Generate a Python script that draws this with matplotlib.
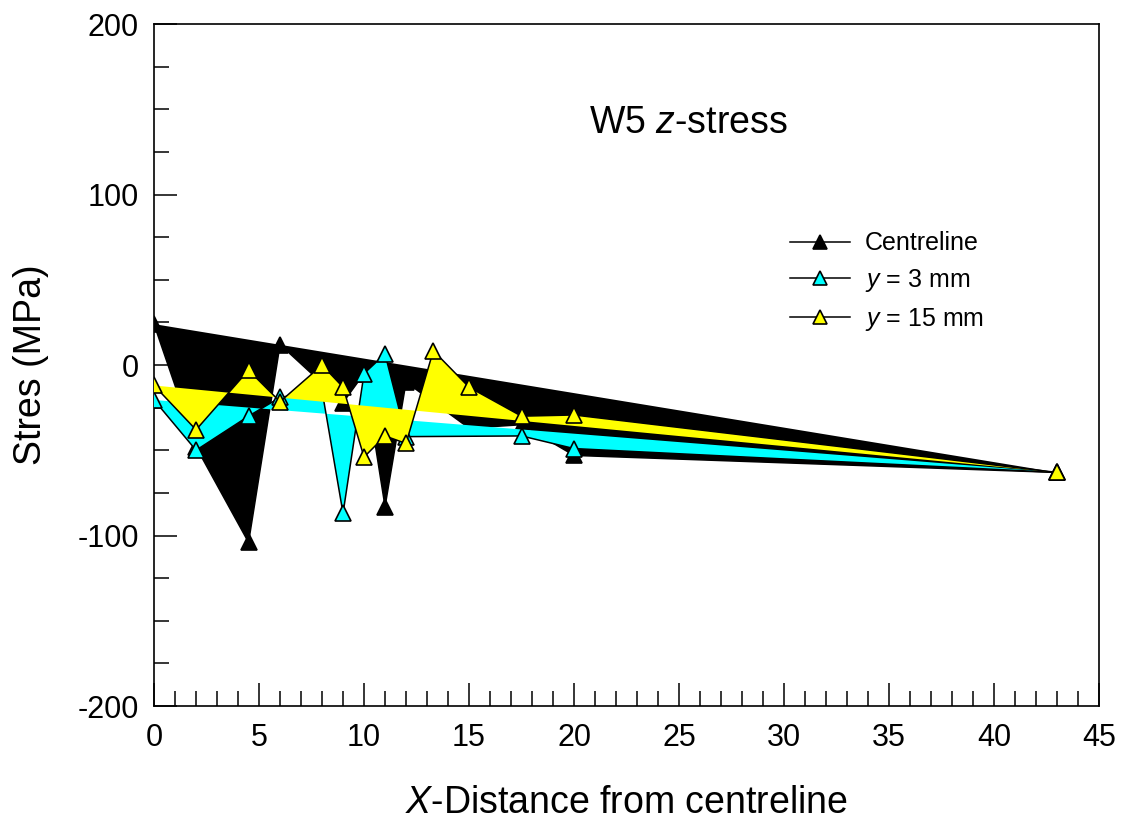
import numpy as np
import matplotlib.pyplot as plt
from matplotlib.ticker import MultipleLocator

plt.rcParams["font.family"] = ["Liberation Sans", "DejaVu Sans"]
plt.rcParams["mathtext.fontset"] = "custom"
plt.rcParams["mathtext.rm"] = "Liberation Sans"
plt.rcParams["mathtext.it"] = "Liberation Sans:italic"
plt.rcParams["axes.unicode_minus"] = False

# centreline
x_c = [0, 2, 4.5, 6, 9, 10, 11, 12, 15, 17.5, 20, 43]
s_c = [24, -48, -104, 12, -22, -5, -83, -10, -37, -35, -53, -63]
# y = 3 mm
x_3 = [0, 2, 4.5, 6, 8, 9, 10, 11, 12, 17.5, 20, 43]
s_3 = [-20.5, -50, -30, -19, -15, -87, -5, 6.5, -42, -41.6, -49, -63]
# y = 15 mm
x_15 = [0, 2, 4.5, 6, 8, 9, 10, 11, 12, 13.3, 15, 17.5, 20, 43]
s_15 = [-12, -38, -3, -21.5, 0, -13, -54, -41.6, -46, 8.4, -13, -30, -29.3, -63]

series = [
    (x_c, s_c, "black", "Centreline"),
    (x_3, s_3, "#00ffff", "$y$ = 3 mm"),
    (x_15, s_15, "#ffff00", "$y$ = 15 mm"),
]

fig = plt.figure(figsize=(11.22, 8.25), dpi=100)
ax = fig.add_axes([0.1373, 0.1442, 0.8422, 0.8267])

handles = []
for i, (xs, ys, col, lab) in enumerate(series):
    ax.fill(xs, ys, color=col, lw=0, zorder=2 + 2 * i)
    h, = ax.plot(xs, ys, color="black", lw=1.1, marker="^", ms=12,
                 mfc=col, mec="black", mew=1.2, zorder=3 + 2 * i, label=lab)
    handles.append(h)

ax.set_xlim(0, 45)
ax.set_ylim(-200, 200)
ax.xaxis.set_major_locator(MultipleLocator(5))
ax.xaxis.set_minor_locator(MultipleLocator(1))
ax.yaxis.set_major_locator(MultipleLocator(100))
ax.yaxis.set_minor_locator(MultipleLocator(25))
ax.tick_params(which="both", direction="in", top=False, right=False, width=1.1)
ax.tick_params(which="major", length=16.5, labelsize=22)
ax.tick_params(axis="x", which="major", pad=12)
ax.tick_params(axis="y", which="major", pad=11)
ax.tick_params(which="minor", length=11)
for sp in ax.spines.values():
    sp.set_linewidth(1.2)

ax.set_xlabel("$X$-Distance from centreline", fontsize=27, labelpad=23)
ax.set_ylabel("Stres (MPa)", fontsize=27, labelpad=20)

ax.text(0.565, 0.855, "W5 $z$-stress", transform=ax.transAxes,
        ha="center", va="center", fontsize=27)

leg = ax.legend(handles=handles, loc="upper left", bbox_to_anchor=(0.673, 0.696),
                frameon=False, fontsize=18, handlelength=2.4, handletextpad=0.6,
                labelspacing=0.47, borderpad=0, borderaxespad=0, markerscale=0.85)

fig.savefig("out.png", dpi=100)
